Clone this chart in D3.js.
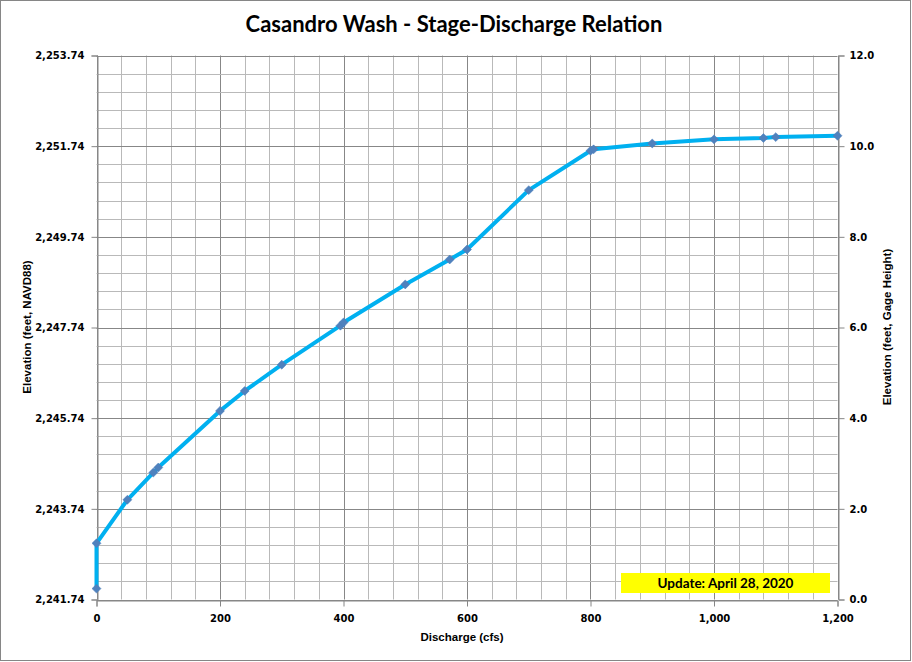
<!DOCTYPE html>
<html><head><meta charset="utf-8">
<script src="https://cdn.jsdelivr.net/npm/d3@7"></script>
<style>body{margin:0;background:#fff}svg{display:block}</style>
</head><body>
<script>
const title = "Casandro Wash - Stage-Discharge Relation";
const discharge = [0, 0, 50, 92, 100, 200, 240, 300, 395, 400, 500, 572, 600, 700, 800, 805, 900, 1000, 1080, 1100, 1200];
const gageHeight = [0.24, 1.24, 2.2, 2.8, 2.91, 4.16, 4.6, 5.18, 6.04, 6.11, 6.95, 7.5, 7.72, 9.03, 9.9, 9.93, 10.06, 10.15, 10.18, 10.2, 10.23];
const xTicks = [0, 200, 400, 600, 800, 1000, 1200];
const yTicks = [0, 2, 4, 6, 8, 10, 12];
const datum = 2241.74;
const updateText = "Update: April 28, 2020";

const W = 912, H = 662;
const svg = d3.select("body").append("svg").attr("width", W).attr("height", H);
svg.append("rect").attr("x",0.5).attr("y",0.5).attr("width",910).attr("height",660)
  .attr("fill","#fff").attr("stroke","#868686");

const x = d3.scaleLinear().domain([0,1200]).range([96.5, 837.5]);
const y = d3.scaleLinear().domain([0,12]).range([599.5, 55.5]);

// grid
const g = svg.append("g");
g.selectAll(".vm").data(d3.range(0,1201,40)).enter().append("line")
  .attr("x1",d=>Math.round(x(d))+0.5).attr("x2",d=>Math.round(x(d))+0.5)
  .attr("y1",y(0)).attr("y2",y(12))
  .attr("stroke",d=>d%200===0?"#878787":"#b9b9b9").attr("stroke-width",1);
g.selectAll(".hm").data(d3.range(0,30.5,1).map(i=>i*0.4)).enter().append("line")
  .attr("y1",d=>Math.round(y(d))+0.5).attr("y2",d=>Math.round(y(d))+0.5)
  .attr("x1",x(0)).attr("x2",x(1200))
  .attr("stroke",d=>Math.abs(d/2-Math.round(d/2))<1e-6?"#878787":"#b9b9b9").attr("stroke-width",1);

const tickFont = "'DejaVu Sans', Verdana, sans-serif";
const xAxis = svg.append("g").attr("transform",`translate(0,${Math.round(y(0))+0.5})`)
  .call(d3.axisBottom(x).tickValues(xTicks).tickSize(6).tickPadding(8).tickFormat(d3.format(",")));
const yAxisL = svg.append("g").attr("transform",`translate(${Math.round(x(0))+0.5},0)`)
  .call(d3.axisLeft(y).tickValues(yTicks).tickSize(6).tickPadding(7).tickFormat(d=>d3.format(",.2f")(d+datum)));
const yAxisR = svg.append("g").attr("transform",`translate(${Math.round(x(1200))+0.5},0)`)
  .call(d3.axisRight(y).tickValues(yTicks).tickSize(6).tickPadding(5).tickFormat(d3.format(".1f")));
[xAxis,yAxisL,yAxisR].forEach(a=>{
  a.select(".domain").attr("stroke","#868686");
  a.selectAll(".tick line").attr("stroke","#868686");
  a.selectAll("text").attr("font-family",tickFont).attr("font-weight","bold")
   .attr("font-size","10px").attr("fill","#000");
});

// line + markers
const pts = discharge.map((d,i)=>[d, gageHeight[i]]);
svg.append("path").datum(pts)
  .attr("d", d3.line().x(d=>x(d[0])).y(d=>y(d[1])))
  .attr("fill","none").attr("stroke","#00b0f0").attr("stroke-width",4)
  .attr("stroke-linejoin","round");
svg.selectAll(".mk").data(pts).enter().append("path")
  .attr("transform",d=>`translate(${x(d[0])},${y(d[1])}) rotate(45)`)
  .attr("d", d3.symbol().type(d3.symbolSquare).size(40))
  .attr("fill","#4f81bd").attr("stroke","#4a7ebb").attr("stroke-width",0.5);

// title
svg.append("text").attr("x",454).attr("y",32).attr("text-anchor","middle")
  .attr("font-family","Lato, 'Open Sans', sans-serif").attr("font-weight","bold")
  .attr("font-size","22px").text(title);

// axis titles
const labFont = "'Liberation Sans', Arial, sans-serif";
svg.append("text").attr("x",462).attr("y",641).attr("text-anchor","middle")
  .attr("font-family",labFont).attr("font-weight","bold").attr("font-size","11.5px")
  .text("Discharge (cfs)");
svg.append("text").attr("transform","translate(31,327) rotate(-90)").attr("text-anchor","middle")
  .attr("font-family",labFont).attr("font-weight","bold").attr("font-size","11.5px")
  .text("Elevation (feet, NAVD88)");
svg.append("text").attr("transform","translate(891,327) rotate(-90)").attr("text-anchor","middle")
  .attr("font-family",labFont).attr("font-weight","bold").attr("font-size","11.5px")
  .text("Elevation (feet, Gage Height)");

// update box
svg.append("rect").attr("x",621).attr("y",573).attr("width",209).attr("height",20).attr("fill","#ffff00");
svg.append("text").attr("x",725.5).attr("y",587.5).attr("text-anchor","middle")
  .attr("font-family","Lato, sans-serif").attr("font-weight","bold").attr("font-size","13.5px")
  .text(updateText);
</script>
</body></html>
